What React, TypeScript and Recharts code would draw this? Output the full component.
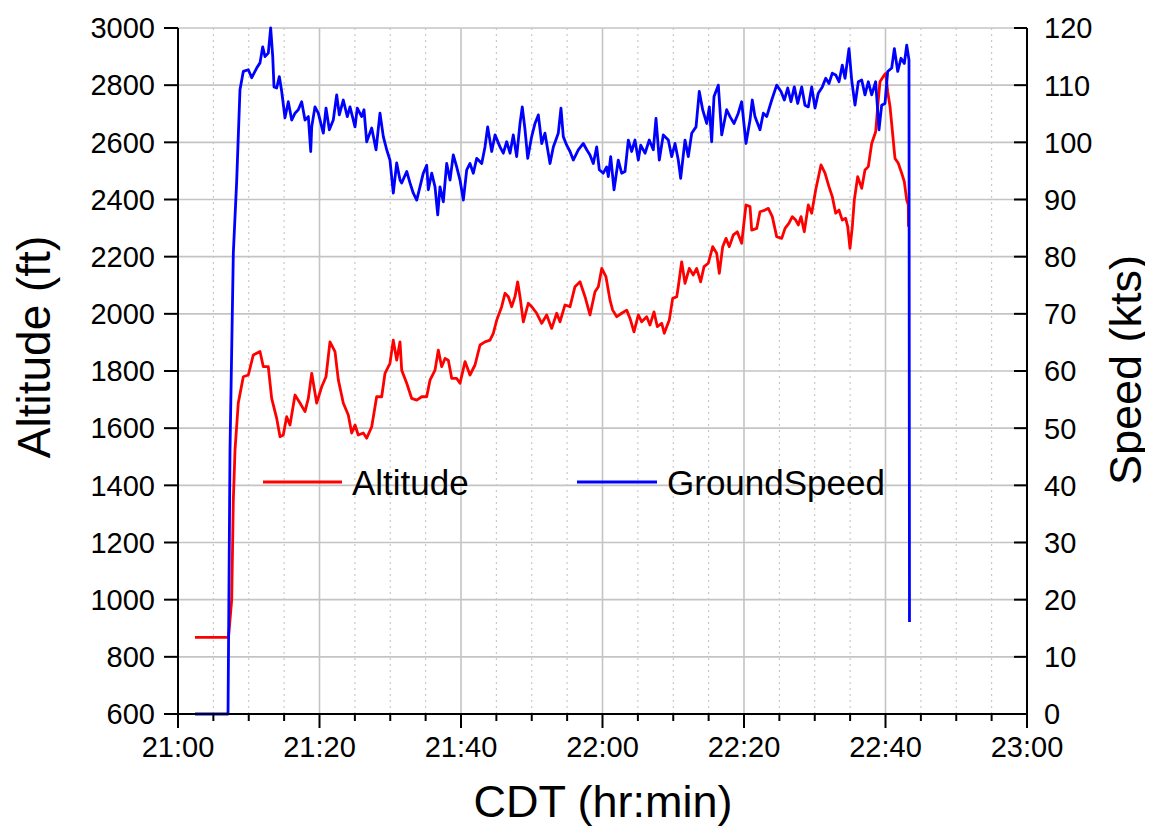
import React from 'react';
import { LineChart, Line, XAxis, YAxis, ReferenceLine, Legend, Label } from 'recharts';

const FONT = '"Liberation Sans", Arial, Helvetica, sans-serif';

// minutes after 21:00
const altTime = [2.4, 7.02, 7.14, 7.59, 7.82, 8.06, 8.52, 9.23, 9.94, 10.64, 11.59, 12.06, 12.76, 13.24, 13.95, 14.42, 14.88, 15.36, 15.83, 16.54, 17.24, 17.95, 18.42, 18.9, 19.6, 20.31, 20.92, 21.48, 22.19, 22.66, 23.36, 24.07, 24.55, 25.02, 25.48, 26.19, 26.67, 27.38, 28.08, 28.79, 29.26, 29.96, 30.43, 30.91, 31.38, 31.62, 32.33, 33.03, 33.74, 34.45, 35.15, 35.62, 36.33, 36.79, 37.27, 37.74, 38.21, 38.69, 39.39, 39.86, 40.57, 41.27, 41.98, 42.69, 43.39, 44.1, 44.57, 45.05, 45.75, 46.22, 46.69, 47.17, 47.63, 48.01, 48.34, 48.81, 49.51, 49.99, 50.7, 51.41, 52.11, 52.82, 53.53, 53.99, 54.7, 55.41, 56.11, 56.82, 57.53, 58.23, 58.94, 59.41, 59.89, 60.49, 61.06, 61.44, 62.01, 62.71, 63.42, 63.89, 64.45, 65.06, 65.54, 66.25, 66.71, 67.28, 67.75, 68.37, 68.73, 69.44, 69.92, 70.49, 70.71, 71.19, 71.66, 72.27, 72.83, 73.31, 73.88, 74.35, 74.95, 75.58, 76.14, 76.51, 76.99, 77.46, 77.92, 78.49, 79.05, 79.67, 80.28, 80.85, 81.09, 81.8, 82.26, 82.97, 83.44, 84.0, 84.62, 85.33, 85.8, 86.36, 86.83, 87.31, 87.67, 88.06, 88.52, 89.09, 89.57, 90.13, 90.88, 91.45, 92.01, 92.48, 92.96, 93.43, 93.89, 94.37, 94.66, 94.98, 95.31, 95.59, 96.07, 96.64, 97.1, 97.57, 98.05, 98.61, 98.98, 99.22, 99.83, 100.03, 100.31, 100.64, 100.96, 101.34, 101.81, 102.29, 102.66, 103.0, 103.22, 103.25];
const altFeet = [868, 868, 869, 999, 1349, 1524, 1688, 1780, 1786, 1856, 1868, 1815, 1815, 1704, 1634, 1570, 1576, 1640, 1611, 1716, 1688, 1658, 1704, 1792, 1688, 1745, 1780, 1902, 1868, 1769, 1688, 1646, 1583, 1611, 1576, 1583, 1565, 1605, 1710, 1710, 1792, 1827, 1908, 1838, 1902, 1803, 1757, 1704, 1698, 1710, 1710, 1768, 1803, 1873, 1815, 1844, 1838, 1774, 1774, 1757, 1833, 1786, 1821, 1891, 1902, 1908, 1932, 1978, 2025, 2072, 2060, 2025, 2060, 2112, 2060, 1972, 2037, 2025, 2002, 1967, 1996, 1949, 2002, 1972, 2031, 2025, 2095, 2112, 2060, 1996, 2077, 2095, 2159, 2130, 2048, 2013, 1990, 2002, 2013, 1984, 1937, 1996, 1972, 1990, 1961, 2007, 1955, 1967, 1932, 1978, 2054, 2060, 2095, 2182, 2107, 2159, 2136, 2159, 2112, 2165, 2177, 2235, 2212, 2142, 2235, 2264, 2235, 2276, 2287, 2247, 2381, 2375, 2293, 2299, 2357, 2363, 2369, 2340, 2270, 2264, 2299, 2317, 2340, 2328, 2311, 2340, 2287, 2381, 2352, 2433, 2521, 2492, 2445, 2410, 2352, 2363, 2328, 2334, 2305, 2229, 2305, 2398, 2480, 2439, 2503, 2515, 2596, 2637, 2748, 2812, 2836, 2841, 2777, 2725, 2643, 2544, 2527, 2492, 2462, 2398, 2381, 2305];

const spdTime = [2.4, 7.07, 7.35, 7.82, 8.3, 8.76, 9.23, 9.94, 10.42, 11.12, 11.59, 11.97, 12.3, 12.76, 13.1, 13.39, 13.57, 13.95, 14.32, 14.66, 15.12, 15.59, 16.07, 16.54, 17.0, 17.48, 17.95, 18.42, 18.76, 18.9, 19.36, 19.83, 20.54, 20.92, 21.39, 21.95, 22.43, 22.8, 23.36, 23.93, 24.31, 25.02, 25.34, 25.96, 26.29, 26.67, 27.38, 27.99, 28.55, 29.02, 29.5, 29.96, 30.43, 30.91, 31.38, 31.62, 32.33, 32.79, 33.26, 33.74, 34.2, 34.67, 35.15, 35.38, 35.86, 36.33, 36.71, 37.03, 37.5, 37.98, 38.45, 38.91, 39.39, 39.86, 40.33, 40.81, 41.27, 41.74, 42.22, 42.93, 43.39, 43.77, 44.34, 44.81, 45.51, 45.98, 46.46, 46.93, 47.39, 47.87, 48.34, 48.66, 49.05, 49.43, 49.99, 50.46, 50.93, 51.41, 51.87, 52.58, 53.05, 53.75, 54.13, 54.46, 54.94, 55.41, 55.87, 56.58, 57.29, 57.77, 58.23, 58.7, 59.18, 59.55, 60.11, 60.59, 60.82, 61.16, 61.63, 62.23, 62.71, 63.18, 63.65, 64.13, 64.59, 65.06, 65.4, 66.01, 66.61, 67.18, 67.56, 68.03, 68.59, 69.3, 69.78, 70.25, 70.71, 71.05, 71.66, 72.13, 72.61, 73.22, 73.68, 74.16, 74.73, 75.1, 75.43, 75.76, 76.37, 76.85, 77.55, 78.02, 78.59, 79.19, 79.67, 80.28, 80.85, 81.17, 81.55, 82.26, 82.73, 83.21, 83.92, 84.62, 85.23, 85.7, 86.18, 86.64, 87.11, 87.59, 88.16, 88.62, 89.09, 89.57, 90.04, 90.5, 91.07, 91.55, 92.01, 92.48, 92.96, 93.43, 93.89, 94.28, 94.84, 95.22, 95.69, 96.16, 96.64, 97.1, 97.57, 98.05, 98.61, 99.08, 99.46, 99.93, 100.31, 100.88, 101.25, 101.73, 102.19, 102.66, 103.0, 103.32, 103.39];
const spdKts = [0, 0, 46.2, 80.6, 93.4, 109.2, 112.4, 112.7, 111.3, 113.0, 113.9, 116.7, 115.0, 115.6, 120.0, 115.0, 109.7, 109.5, 111.5, 108.9, 104.3, 107.1, 103.9, 105.1, 105.7, 107.1, 103.9, 104.5, 98.4, 102.7, 106.2, 105.1, 101.6, 106.0, 102.2, 103.9, 108.3, 104.8, 107.4, 104.5, 106.2, 102.7, 106.0, 104.5, 105.7, 100.1, 102.5, 98.7, 105.1, 101.0, 98.7, 96.9, 91.1, 96.4, 93.4, 92.9, 94.9, 92.9, 91.1, 89.9, 92.2, 94.6, 96.0, 91.7, 94.6, 92.2, 87.3, 92.2, 89.6, 96.3, 93.4, 97.8, 95.7, 93.4, 89.9, 95.2, 96.3, 94.6, 97.2, 96.3, 99.2, 102.7, 98.4, 101.3, 99.2, 98.1, 100.1, 98.1, 101.3, 97.5, 103.3, 106.2, 102.2, 97.2, 101.0, 103.3, 104.8, 99.8, 101.6, 96.3, 99.2, 101.6, 106.0, 101.0, 99.5, 98.4, 96.9, 98.7, 99.8, 98.7, 97.8, 96.3, 99.2, 95.2, 94.6, 95.7, 94.0, 97.5, 91.7, 96.9, 94.6, 94.9, 100.4, 98.4, 100.4, 96.9, 99.5, 98.1, 100.4, 98.7, 104.2, 96.9, 101.3, 100.4, 97.5, 99.8, 96.9, 93.7, 100.4, 97.5, 101.6, 102.7, 108.9, 105.7, 103.3, 106.2, 100.1, 108.0, 110.0, 101.3, 105.7, 104.5, 103.3, 105.1, 107.1, 99.8, 103.9, 107.4, 104.5, 102.2, 105.1, 104.5, 107.4, 110.0, 108.9, 107.4, 109.5, 107.1, 109.7, 106.8, 109.7, 106.5, 106.2, 109.7, 106.0, 108.6, 109.7, 111.2, 110.3, 112.1, 111.8, 110.6, 113.5, 111.2, 116.4, 110.9, 106.5, 110.6, 110.9, 108.3, 110.6, 108.3, 110.6, 102.2, 106.5, 106.8, 112.4, 113.0, 116.4, 112.4, 114.7, 113.8, 117.0, 114.4, 16.1];

const xTicks = [0, 5, 10, 15, 20, 25, 30, 35, 40, 45, 50, 55, 60, 65, 70, 75, 80, 85, 90, 95, 100, 105, 110, 115, 120];
const leftTicks = [600, 800, 1000, 1200, 1400, 1600, 1800, 2000, 2200, 2400, 2600, 2800, 3000];
const rightTicks = [0, 10, 20, 30, 40, 50, 60, 70, 80, 90, 100, 110, 120];

const altData = altTime.map((t, i) => ({ t, v: altFeet[i] }));
const spdData = spdTime.map((t, i) => ({ t, v: spdKts[i] }));

const TICK_FS = 29;
const GRID = '#c4c4c4';

const fmtTime = (m: number) => {
  const h = 21 + Math.floor(m / 60);
  const mm = m % 60;
  return `${h}:${mm < 10 ? '0' + mm : mm}`;
};

const XTick = (props: any) => {
  const { x, y, payload } = props;
  const v = payload.value;
  const major = v % 20 === 0;
  return (
    <g>
      <line x1={x} y1={y} x2={x} y2={y + (major ? 14 : 7)} stroke="#000" strokeWidth={2} />
      {major && (
        <text x={x} y={y + 43} textAnchor="middle" fontSize={TICK_FS} fontFamily={FONT} fill="#000">
          {fmtTime(v)}
        </text>
      )}
    </g>
  );
};

const RightTick = (props: any) => {
  const { x, y, payload } = props;
  return (
    <g>
      <line x1={x} y1={y} x2={x - 13} y2={y} stroke="#000" strokeWidth={2} />
      <text x={x + 17} y={y} dy="0.36em" textAnchor="start" fontSize={TICK_FS} fontFamily={FONT} fill="#000">
        {payload.value}
      </text>
    </g>
  );
};

const LegendBox = () => (
  <svg width={700} height={44} style={{ overflow: 'visible' }}>
    <line x1={5} y1={19} x2={84} y2={19} stroke="#ff0000" strokeWidth={2.8} />
    <text x={94} y={19} dy="0.36em" fontSize={35} fontFamily={FONT} fill="#000">Altitude</text>
    <line x1={319} y1={19} x2={399} y2={19} stroke="#0000ff" strokeWidth={2.8} />
    <text x={409} y={19} dy="0.36em" fontSize={35} fontFamily={FONT} fill="#000">GroundSpeed</text>
  </svg>
);

export default function App() {
  return (
    <div style={{ width: 1145, height: 823, position: 'relative', background: '#fff' }}>
      <LineChart width={1145} height={823} margin={{ top: 20, right: 0, bottom: 0, left: 0 }}>
        {leftTicks.map((v) => (
          <ReferenceLine key={'h' + v} y={v} yAxisId="left" stroke={GRID} strokeWidth={1.6} />
        ))}
        {xTicks.filter((t) => t > 0 && t < 120).map((t) => (
          <ReferenceLine
            key={'v' + t}
            x={t}
            yAxisId="left"
            stroke={GRID}
            strokeWidth={t % 20 === 0 ? 1.6 : 1.1}
            strokeDasharray={t % 20 === 0 ? undefined : '2 4'}
          />
        ))}
        <XAxis
          dataKey="t"
          type="number"
          domain={[0, 120]}
          ticks={xTicks}
          interval={0}
          height={117}
          tickSize={0}
          tickMargin={0}
          tick={<XTick />}
          axisLine={{ stroke: '#000', strokeWidth: 2 }}
        >
          <Label
            content={() => (
              <text x={595} y={809} textAnchor="middle" fontSize={45} fontFamily={FONT} fill="#000">
                CDT (hr:min)
              </text>
            )}
          />
        </XAxis>
        <YAxis
          yAxisId="left"
          orientation="left"
          type="number"
          domain={[600, 3000]}
          ticks={leftTicks}
          interval={0}
          width={170}
          tickSize={14}
          tickMargin={9}
          tick={{ fontSize: TICK_FS, fill: '#000', fontFamily: FONT }}
          tickLine={{ stroke: '#000', strokeWidth: 2 }}
          axisLine={{ stroke: '#000', strokeWidth: 2 }}
        >
          <Label
            content={() => (
              <text
                x={25}
                y={339}
                transform="rotate(-90 25 339)"
                textAnchor="middle"
                dy="0.36em"
                fontSize={46}
                fontFamily={FONT}
                fill="#000"
              >
                Altitude (ft)
              </text>
            )}
          />
        </YAxis>
        <YAxis
          yAxisId="right"
          orientation="right"
          type="number"
          domain={[0, 120]}
          ticks={rightTicks}
          interval={0}
          width={126}
          tickSize={0}
          tickMargin={0}
          tick={<RightTick />}
          axisLine={{ stroke: '#000', strokeWidth: 2 }}
        >
          <Label
            content={() => (
              <text
                x={1117}
                y={362}
                transform="rotate(-90 1117 362)"
                textAnchor="middle"
                dy="0.36em"
                fontSize={45}
                fontFamily={FONT}
                fill="#000"
              >
                Speed (kts)
              </text>
            )}
          />
        </YAxis>
        <Legend
          layout="horizontal"
          verticalAlign="middle"
          align="center"
          content={() => <LegendBox />}
          wrapperStyle={{ left: 250, top: 455, width: 700, height: 44 }}
        />
        <Line
          data={altData}
          dataKey="v"
          yAxisId="left"
          type="linear"
          stroke="#ff0000"
          strokeWidth={2.8}
          strokeLinejoin="round"
          dot={false}
          activeDot={false}
          isAnimationActive={false}
          name="Altitude"
        />
        <Line
          data={spdData}
          dataKey="v"
          yAxisId="right"
          type="linear"
          stroke="#0000ff"
          strokeWidth={2.8}
          strokeLinejoin="round"
          dot={false}
          activeDot={false}
          isAnimationActive={false}
          name="GroundSpeed"
        />
      </LineChart>
    </div>
  );
}
